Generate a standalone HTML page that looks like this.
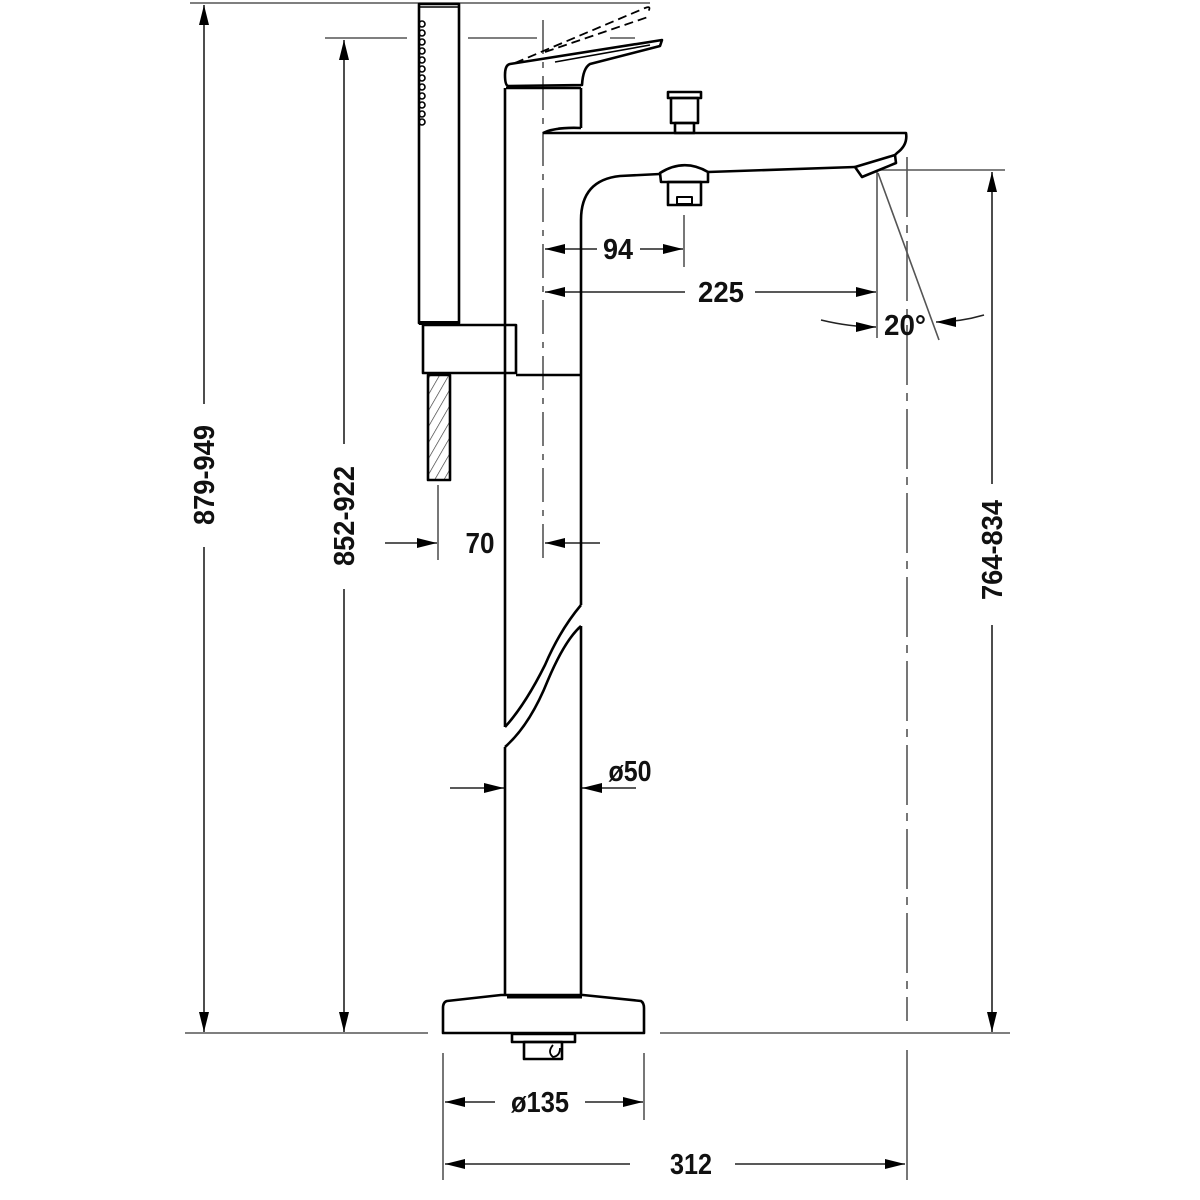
<!DOCTYPE html>
<html><head><meta charset="utf-8"><style>
html,body{margin:0;padding:0;background:#fff}
svg{display:block}
text{font-family:"Liberation Sans",sans-serif;font-weight:bold;font-size:29px;fill:#111}
</style></head><body>
<svg width="1200" height="1200" viewBox="0 0 1200 1200" xmlns="http://www.w3.org/2000/svg">
<defs>
<marker id="a" viewBox="0 0 20 10" refX="20" refY="5" markerWidth="20" markerHeight="10" markerUnits="userSpaceOnUse" orient="auto-start-reverse"><path d="M0,0 L20,5 L0,10 Z" fill="#000"/></marker>
<pattern id="h" width="8" height="8" patternUnits="userSpaceOnUse" patternTransform="rotate(30)"><line x1="0" y1="0" x2="0" y2="8" stroke="#333" stroke-width="1.3"/></pattern>
</defs>
<g fill="none" stroke="#555" stroke-width="1.6">
<!-- top reference lines -->
<line x1="190" y1="3" x2="650" y2="3"/>
<line x1="325" y1="38" x2="407" y2="38"/>
<line x1="468" y1="38" x2="537" y2="38"/>
<line x1="610" y1="38" x2="635" y2="38"/>
<!-- bottom reference line -->
<line x1="185" y1="1033" x2="428" y2="1033"/>
<line x1="660" y1="1033" x2="1010" y2="1033"/>
<!-- centerline dashed 543 -->
<line x1="543" y1="20" x2="543" y2="560" stroke-dasharray="34 8 6 8"/>
<!-- 906 dashed -->
<line x1="907" y1="157" x2="907" y2="1021" stroke-dasharray="60 8 8 8"/>
<line x1="907" y1="1050" x2="907" y2="1180"/>
<!-- 877 extension -->
<line x1="877" y1="170" x2="877" y2="338"/>
<line x1="880" y1="170" x2="1005" y2="170"/>
<!-- slant -->
<line x1="878" y1="173" x2="939" y2="340"/>
<!-- 94 ext -->
<line x1="684" y1="215" x2="684" y2="267"/>
<!-- 70 ext -->
<line x1="438" y1="485" x2="438" y2="560"/>
<!-- base ext -->
<line x1="443" y1="1053" x2="443" y2="1180"/>
<line x1="644" y1="1053" x2="644" y2="1120"/>
</g>
<!-- dimension lines -->
<g fill="none" stroke="#222" stroke-width="1.6">
<line x1="204" y1="404" x2="204" y2="5" marker-end="url(#a)"/>
<line x1="204" y1="547" x2="204" y2="1032" marker-end="url(#a)"/>
<line x1="344" y1="444" x2="344" y2="40" marker-end="url(#a)"/>
<line x1="344" y1="589" x2="344" y2="1032" marker-end="url(#a)"/>
<line x1="992" y1="484" x2="992" y2="172" marker-end="url(#a)"/>
<line x1="992" y1="625" x2="992" y2="1032" marker-end="url(#a)"/>
<line x1="597" y1="249" x2="545" y2="249" marker-end="url(#a)"/>
<line x1="640" y1="249" x2="683" y2="249" marker-end="url(#a)"/>
<line x1="685" y1="292" x2="545" y2="292" marker-end="url(#a)"/>
<line x1="755" y1="292" x2="876" y2="292" marker-end="url(#a)"/>
<path d="M821,320 Q850,327 876,327" marker-end="url(#a)"/>
<path d="M984,315 Q960,322 936,322" marker-end="url(#a)"/>
<line x1="385" y1="543" x2="437" y2="543" marker-end="url(#a)"/>
<line x1="600" y1="543" x2="545" y2="543" marker-end="url(#a)"/>
<line x1="450" y1="788" x2="504" y2="788" marker-end="url(#a)"/>
<line x1="636" y1="788" x2="582" y2="788" marker-end="url(#a)"/>
<line x1="495" y1="1102" x2="445" y2="1102" marker-end="url(#a)"/>
<line x1="585" y1="1102" x2="643" y2="1102" marker-end="url(#a)"/>
<line x1="630" y1="1164" x2="445" y2="1164" marker-end="url(#a)"/>
<line x1="735" y1="1164" x2="905" y2="1164" marker-end="url(#a)"/>
</g>
<!-- product -->
<g fill="none" stroke="#000" stroke-width="2.6" stroke-linejoin="round">
<!-- hand shower -->
<rect x="419" y="4" width="40" height="319"/>
<line x1="420" y1="7" x2="458" y2="7" stroke-width="1.5"/>
<g stroke-width="1.6">
<circle cx="422" cy="24" r="3"/><circle cx="422" cy="33" r="3"/><circle cx="422" cy="42" r="3"/><circle cx="422" cy="51" r="3"/><circle cx="422" cy="60" r="3"/><circle cx="422" cy="69" r="3"/><circle cx="422" cy="78" r="3"/><circle cx="422" cy="87" r="3"/><circle cx="422" cy="96" r="3"/><circle cx="422" cy="105" r="3"/><circle cx="422" cy="114" r="3"/><circle cx="422" cy="122" r="3"/>
</g>
<rect x="423" y="325" width="93" height="48"/>
<line x1="419" y1="323" x2="459" y2="323" stroke-width="4"/>
<rect x="428" y="375" width="22" height="105" fill="url(#h)"/>
<!-- lever dashed -->
<g stroke-width="1.8" stroke-dasharray="9 5">
<path d="M515,63 L645,8 Q652,5 648,12"/>
<path d="M545,52 L648,17"/>
</g>
<!-- lever -->
<path d="M510,64 L662,40 L660,46 L590,64 Q583,68 582,85 L508,86 Q505,85 505,75 Q505,65 510,64 Z"/>
<line x1="555" y1="62" x2="650" y2="45" stroke-width="1.6"/>
<line x1="506" y1="88" x2="581" y2="88"/>
<!-- body -->
<path d="M505,88 L505,727"/>
<path d="M581,88 L581,128"/>
<path d="M543,133 Q555,127 581,128"/>
<!-- spout -->
<path d="M543,133 L906,133 Q908,145 897,153 L895,155"/>
<path d="M855,167 L895,155 L896,163 L862,177 Z"/>
<path d="M855,167 L708,172"/>
<path d="M660,173 Q684,158 708,172 L708,182 L661,182 Z"/>
<rect x="668" y="182" width="33" height="23"/>
<rect x="677" y="197" width="15" height="7" stroke-width="2"/>
<path d="M660,174 L620,176 Q581,180 581,220 L581,605"/>
<!-- button -->
<rect x="668" y="92" width="33" height="6"/>
<rect x="671" y="98" width="27" height="25"/>
<rect x="675" y="123" width="19" height="10"/>
<!-- cut -->
<path d="M581,605 Q560,630 545,665 Q525,705 505,727"/>
<path d="M581,626 Q565,640 548,680 Q530,725 505,747"/>
<line x1="505" y1="747" x2="505" y2="995"/>
<line x1="581" y1="626" x2="581" y2="995"/>
<line x1="516" y1="375" x2="581" y2="375"/>
<!-- base -->
<path d="M501,995 L583,995 L641,1001 Q644,1003 644,1008 L644,1033 L443,1033 L443,1008 Q443,1002 447,1001 Z"/>
<line x1="507" y1="997" x2="582" y2="997" stroke-width="3"/>
<rect x="512" y="1034" width="63" height="8"/>
<rect x="524" y="1042" width="38" height="17"/>
<path d="M553,1045 Q547,1052 553,1057 Q560,1056 560,1048" stroke-width="1.8"/>
</g>
<!-- labels -->
<text x="618" y="259" text-anchor="middle" textLength="30" lengthAdjust="spacingAndGlyphs">94</text>
<text x="721" y="302" text-anchor="middle" textLength="46" lengthAdjust="spacingAndGlyphs">225</text>
<text x="905" y="335" text-anchor="middle" textLength="42" lengthAdjust="spacingAndGlyphs">20°</text>
<text x="480" y="553" text-anchor="middle" textLength="29" lengthAdjust="spacingAndGlyphs">70</text>
<text x="630" y="781" text-anchor="middle" textLength="43" lengthAdjust="spacingAndGlyphs">ø50</text>
<text x="540" y="1112" text-anchor="middle" textLength="58" lengthAdjust="spacingAndGlyphs">ø135</text>
<text x="691" y="1174" text-anchor="middle" textLength="42" lengthAdjust="spacingAndGlyphs">312</text>
<text transform="translate(214,475) rotate(-90)" text-anchor="middle" textLength="100" lengthAdjust="spacingAndGlyphs">879-949</text>
<text transform="translate(354,516) rotate(-90)" text-anchor="middle" textLength="100" lengthAdjust="spacingAndGlyphs">852-922</text>
<text transform="translate(1002,550) rotate(-90)" text-anchor="middle" textLength="100" lengthAdjust="spacingAndGlyphs">764-834</text>
</svg>
</body></html>
